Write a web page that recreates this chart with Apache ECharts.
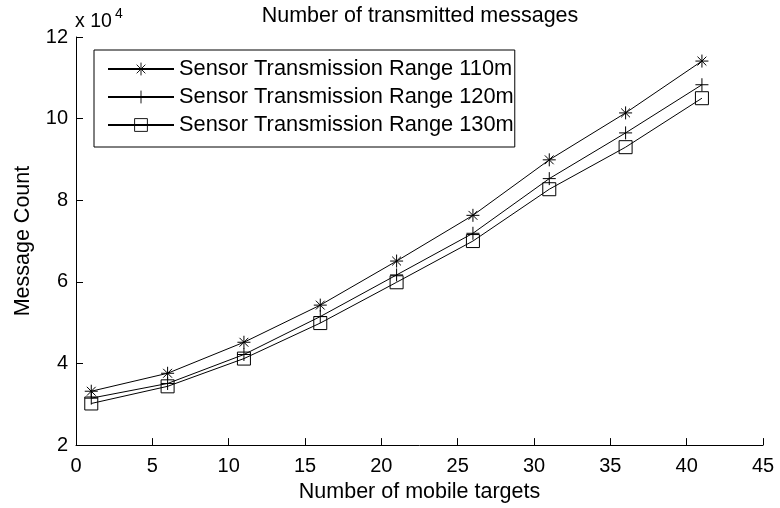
<!DOCTYPE html>
<html>
<head>
<meta charset="utf-8">
<script src="https://cdn.jsdelivr.net/npm/echarts@6/dist/echarts.min.js"></script>
<style>
html,body{margin:0;padding:0;background:#fff;}
#main{width:780px;height:508px;}
</style>
</head>
<body>
<div id="main"></div>
<script>
var xValues = [1, 6, 11, 16, 21, 26, 31, 36, 41];
var range110 = [33200, 37600, 45200, 54300, 65100, 76300, 89900, 101400, 114100];
var range120 = [31500, 35100, 42200, 51500, 61700, 71900, 85300, 96500, 108300];
var range130 = [30200, 34400, 41200, 49900, 59900, 70000, 82700, 93000, 105000];
var seriesNames = ['Sensor Transmission Range 110m', 'Sensor Transmission Range 120m', 'Sensor Transmission Range 130m'];
var titleText = 'Number of transmitted messages';
var xName = 'Number of mobile targets';
var yName = 'Message Count';

var FONT = 'Liberation Sans, Arial, Helvetica, sans-serif';
var STAR = 'path://M0,5L10,5M5,0L5,10M1.6,1.6L8.4,8.4M1.6,8.4L8.4,1.6';
var PLUS = 'path://M0,5L10,5M5,0L5,10';
var SQUARE = 'path://M0,0L10,0L10,10L0,10Z';

function pairs(ys) { return xValues.map(function (x, i) { return [x, ys[i]]; }); }
function mkSeries(name, ys, sym) {
  return {
    name: name, type: 'line', data: pairs(ys),
    symbol: sym, symbolSize: 13, showSymbol: true,
    lineStyle: { color: '#000', width: 1 },
    itemStyle: { color: 'rgba(0,0,0,0)', borderColor: '#000', borderWidth: 1 },
    emphasis: { disabled: true },
    silent: true
  };
}

var chart = echarts.init(document.getElementById('main'), null, { renderer: 'canvas' });
chart.setOption({
  animation: false,
  backgroundColor: '#fff',
  textStyle: { fontFamily: FONT },
  title: {
    text: titleText, left: 420, top: 5, padding: 0, textAlign: 'center',
    textStyle: { fontFamily: FONT, fontSize: 21.5, fontWeight: 'normal', color: '#000', lineHeight: 22 }
  },
  grid: { left: 76, right: 17, top: 37, bottom: 61, containLabel: false },
  legend: {
    orient: 'vertical', left: 94, top: 50,
    padding: [8, 1, 11, 13],
    itemGap: 6, itemWidth: 66, itemHeight: 16,
    borderColor: '#000', borderWidth: 1, backgroundColor: '#fff',
    itemStyle: { borderWidth: 0.9 },
    textStyle: { fontFamily: FONT, fontSize: 21.8, color: '#000', lineHeight: 22 },
    data: seriesNames, selectedMode: false
  },
  xAxis: {
    type: 'value', min: 0, max: 45, interval: 5,
    name: xName, nameLocation: 'middle', nameGap: 34,
    nameTextStyle: { fontFamily: FONT, fontSize: 21.5, color: '#000' },
    axisLine: { show: true, lineStyle: { color: '#000', width: 1 } },
    axisTick: { show: true, inside: true, length: 7, lineStyle: { color: '#000' } },
    axisLabel: { fontFamily: FONT, fontSize: 20, color: '#000', margin: 11 },
    splitLine: { show: false }
  },
  yAxis: {
    type: 'value', min: 20000, max: 120000, interval: 20000,
    name: yName, nameLocation: 'middle', nameGap: 42, nameRotate: 90,
    nameTextStyle: { fontFamily: FONT, fontSize: 21.5, color: '#000' },
    axisLine: { show: true, lineStyle: { color: '#000', width: 1 } },
    axisTick: { show: true, inside: true, length: 7, lineStyle: { color: '#000' } },
    axisLabel: { fontFamily: FONT, fontSize: 20, color: '#000', margin: 8,
      formatter: function (v) { return String(v / 10000); } },
    splitLine: { show: false }
  },
  graphic: [
    { type: 'text', left: 75, top: 12, style: { text: 'x 10', font: '19.5px ' + FONT, fill: '#000' } },
    { type: 'text', left: 115, top: 7, style: { text: '4', font: '14px ' + FONT, fill: '#000' } }
  ],
  series: [
    mkSeries(seriesNames[0], range110, STAR),
    mkSeries(seriesNames[1], range120, PLUS),
    mkSeries(seriesNames[2], range130, SQUARE)
  ]
});
</script>
</body>
</html>
